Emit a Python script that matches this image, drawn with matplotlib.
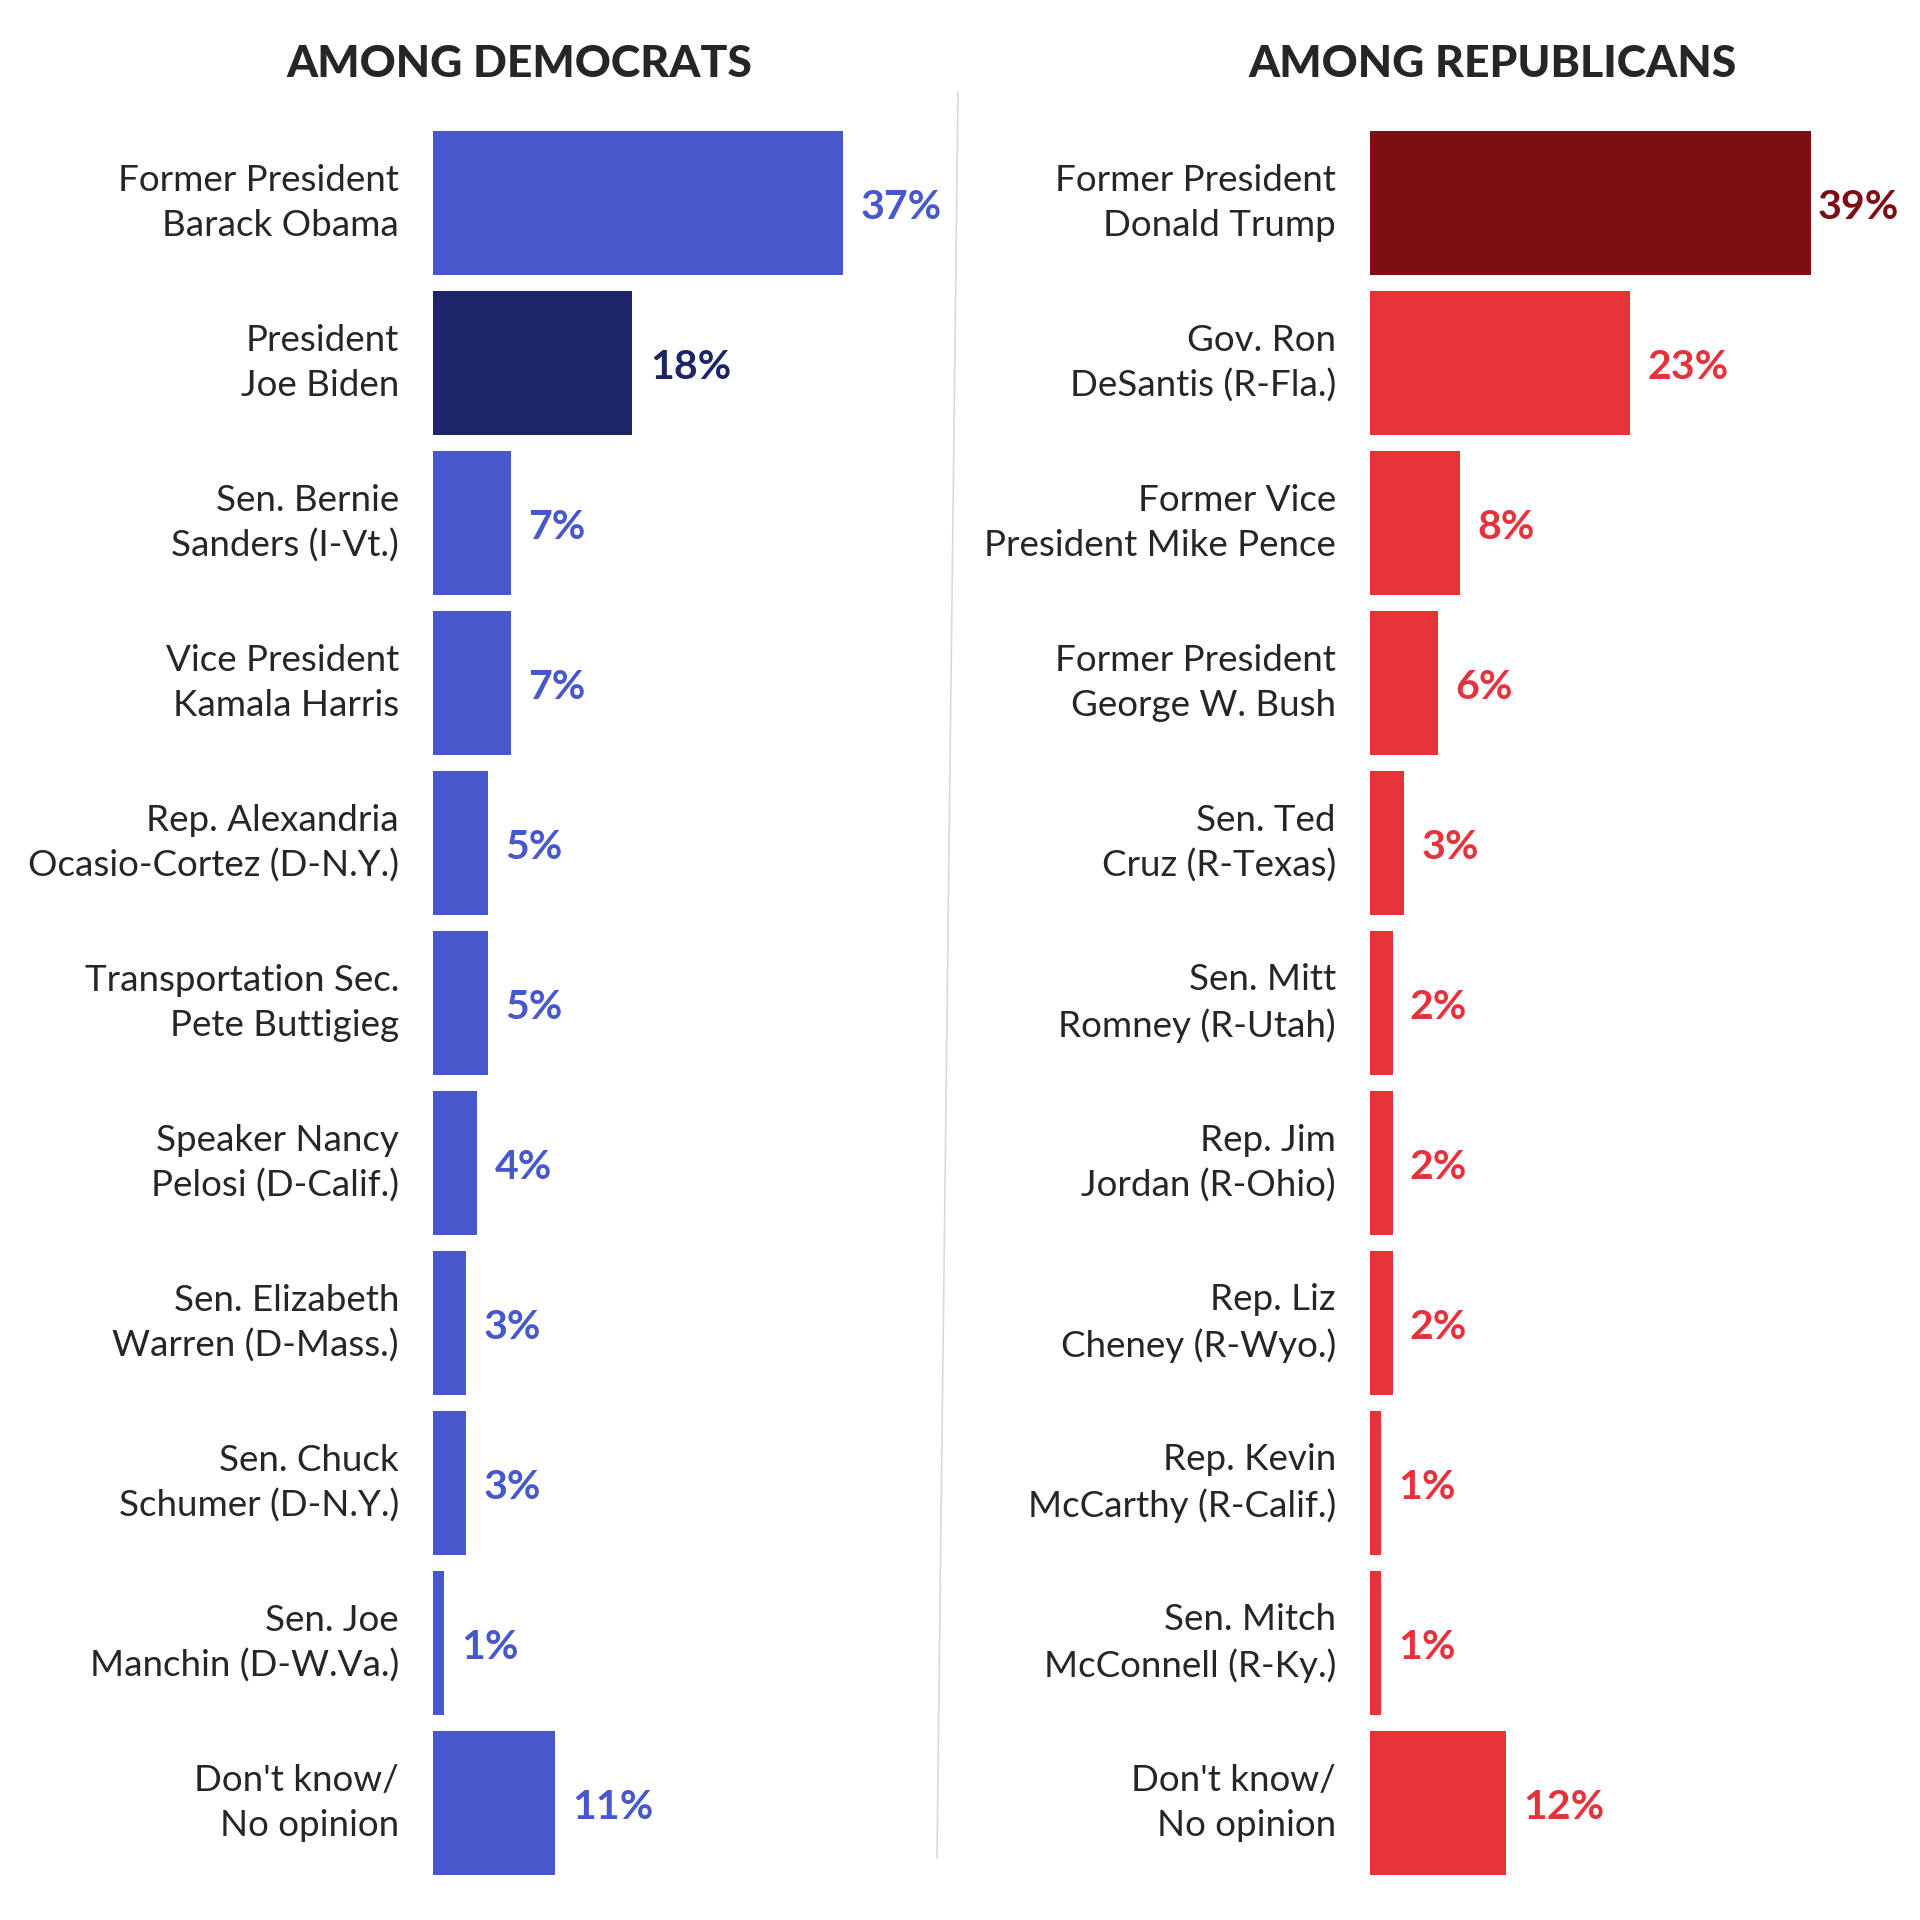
import matplotlib.pyplot as plt
from matplotlib.lines import Line2D
from matplotlib.transforms import blended_transform_factory

# data
dem_names = ["Former President\nBarack Obama", "President\nJoe Biden", "Sen. Bernie\nSanders (I-Vt.)",
             "Vice President\nKamala Harris", "Rep. Alexandria\nOcasio-Cortez (D-N.Y.)",
             "Transportation Sec.\nPete Buttigieg", "Speaker Nancy\nPelosi (D-Calif.)",
             "Sen. Elizabeth\nWarren (D-Mass.)", "Sen. Chuck\nSchumer (D-N.Y.)",
             "Sen. Joe\nManchin (D-W.Va.)", "Don't know/\nNo opinion"]
dem_vals = [37, 18, 7, 7, 5, 5, 4, 3, 3, 1, 11]

rep_names = ["Former President\nDonald Trump", "Gov. Ron\nDeSantis (R-Fla.)", "Former Vice\nPresident Mike Pence",
             "Former President\nGeorge W. Bush", "Sen. Ted\nCruz (R-Texas)", "Sen. Mitt\nRomney (R-Utah)",
             "Rep. Jim\nJordan (R-Ohio)", "Rep. Liz\nCheney (R-Wyo.)", "Rep. Kevin\nMcCarthy (R-Calif.)",
             "Sen. Mitch\nMcConnell (R-Ky.)", "Don't know/\nNo opinion"]
rep_vals = [39, 23, 8, 6, 3, 2, 2, 2, 1, 1, 12]

BLUE = "#4658CC"
NAVY = "#1D2469"
DKRED = "#7E0E12"
RED = "#E8323A"
TXT = "#262626"

plt.rcParams['font.family'] = ['Lato', 'DejaVu Sans']

W, H = 1920, 1920
fig = plt.figure(figsize=(19.2, 19.2), dpi=100)

top_px, bot_px = 131, 1875


def panel(left_px, width_px, px_per_pct, names, vals, colors, title, title_x, squeeze):
    ax = fig.add_axes([left_px / W, 1 - bot_px / H, width_px / W, (bot_px - top_px) / H])
    y = list(range(len(vals)))
    ax.barh(y, vals, height=0.9, color=colors)
    ax.set_xlim(0, width_px / px_per_pct)
    ax.set_ylim(len(vals) - 0.55, -0.45)
    ax.axis('off')
    tr = blended_transform_factory(ax.transAxes, ax.transData)
    for i, (n, v, c) in enumerate(zip(names, vals, colors)):
        ax.text(-34 / width_px, i, n, transform=tr, ha='right', va='center',
                fontsize=26.5, color=TXT, linespacing=1.42)
        off = 5 if i in squeeze else 12.5
        ax.annotate(f"{v}%", (v, i), xytext=(off, -3), textcoords='offset points',
                    ha='left', va='center', fontsize=29.5, fontweight='bold', color=c,
                    annotation_clip=False)
    fig.text(title_x / W, 1 - 64 / H, title, ha='center', va='center', fontsize=32,
             fontweight='black', color=TXT)
    return ax


dem_colors = [BLUE] * len(dem_vals)
dem_colors[1] = NAVY
rep_colors = [RED] * len(rep_vals)
rep_colors[0] = DKRED

panel(433, 440, 11.08, dem_names, dem_vals, dem_colors, "AMONG DEMOCRATS", 519, [])
panel(1370, 500, 11.3, rep_names, rep_vals, rep_colors, "AMONG REPUBLICANS", 1493, [0])

fig.add_artist(Line2D([958 / W, 937 / W], [1 - 92 / H, 1 - 1858 / H],
                      transform=fig.transFigure, color="#d9d9d9", lw=1.2))

fig.savefig("out.png", dpi=100, facecolor="white")
